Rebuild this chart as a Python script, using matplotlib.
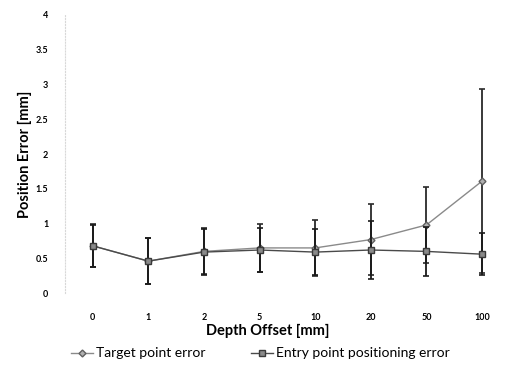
import numpy as np
import matplotlib
matplotlib.use("Agg")
import matplotlib.pyplot as plt
from matplotlib.lines import Line2D

# Données
depth_offsets = ["0", "1", "2", "5", "10", "20", "50", "100"]
target_error = [0.68, 0.46, 0.60, 0.65, 0.65, 0.77, 0.98, 1.61]
target_sd = [0.31, 0.33, 0.33, 0.34, 0.40, 0.51, 0.55, 1.32]
entry_error = [0.68, 0.46, 0.59, 0.62, 0.59, 0.62, 0.60, 0.56]
entry_sd = [0.30, 0.33, 0.33, 0.31, 0.33, 0.42, 0.35, 0.30]
y_ticks = [0, 0.5, 1, 1.5, 2, 2.5, 3, 3.5, 4]

plt.rcParams["font.family"] = ["Lato", "DejaVu Sans"]

fig = plt.figure(figsize=(5.15, 3.72), dpi=100)
ax = fig.add_axes([0.126, 0.212, 0.864, 0.748])

x = np.arange(len(depth_offsets))

# Série 1 : erreur au point cible
ax.errorbar(x, target_error, yerr=target_sd, color="#8a8a8a", lw=1.0,
            marker="D", ms=3.5, mfc="#b0b0b0", mec="#606060",
            ecolor="#2a2a2a", elinewidth=1.3, capsize=2.5, capthick=1.2,
            zorder=3)
# Série 2 : erreur au point d'entrée
ax.errorbar(x, entry_error, yerr=entry_sd, color="#4a4a4a", lw=1.0,
            marker="s", ms=5, mfc="#8a8a8a", mec="#3a3a3a",
            ecolor="#1a1a1a", elinewidth=1.3, capsize=2.5, capthick=1.2,
            zorder=4)

ax.set_xlim(-0.5, len(depth_offsets) - 0.5)
ax.set_ylim(0, 4)
ax.set_xticks(x)
ax.set_xticklabels(depth_offsets, fontsize=6.5, fontweight="bold")
ax.set_yticks(y_ticks)
ax.set_yticklabels([f"{t:g}" for t in y_ticks], fontsize=6.5, fontweight="bold")
ax.tick_params(axis="both", length=0)
ax.tick_params(axis="y", pad=12)
ax.tick_params(axis="x", pad=14)

for side in ["top", "right", "bottom"]:
    ax.spines[side].set_visible(False)
ax.spines["left"].set_color("#d8d8d8")
ax.spines["left"].set_linestyle(":")
ax.spines["left"].set_linewidth(0.8)

ax.set_ylabel("Position Error [mm]", fontsize=10.5, fontweight="bold")
ax.yaxis.set_label_coords(-0.075, 0.5)
fig.text(0.52, 0.11, "Depth Offset [mm]", fontsize=10.5, fontweight="bold",
         ha="center", va="center")

handles = [
    Line2D([], [], color="#8a8a8a", lw=1.0, marker="D", ms=3.5,
           mfc="#b0b0b0", mec="#606060"),
    Line2D([], [], color="#4a4a4a", lw=1.0, marker="s", ms=5,
           mfc="#8a8a8a", mec="#3a3a3a"),
]
fig.legend(handles, ["Target point error", "Entry point positioning error"],
           loc="center", bbox_to_anchor=(0.505, 0.05), ncol=2, frameon=False,
           prop={"size": 10}, handlelength=1.6, handletextpad=0.2,
           columnspacing=3.3)

fig.savefig("out.png", dpi=100)
